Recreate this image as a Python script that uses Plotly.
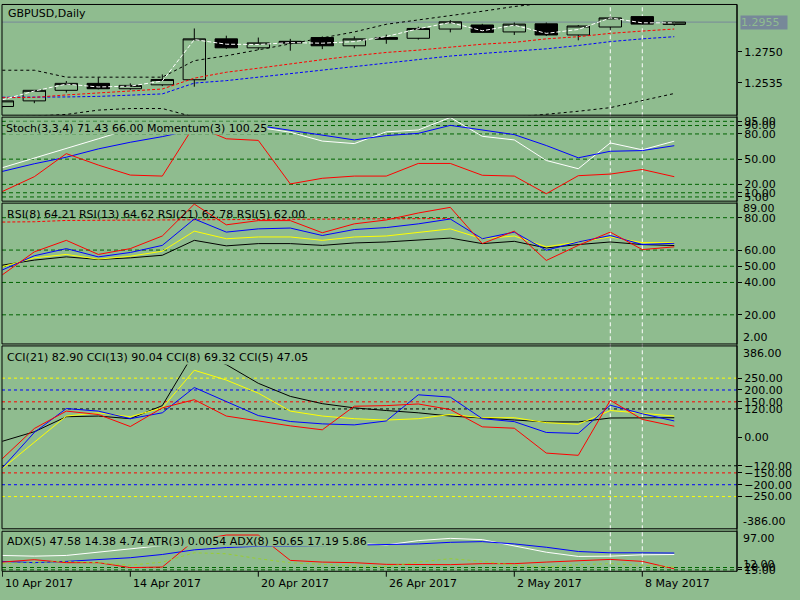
"""
GBPUSD daily chart with indicator sub windows, terminal style
"""

import plotly.graph_objects as go

BG = "#8fbc8f"
LEVEL = "#006400"
BID = "#778899"
FONT = "DejaVu Sans"

W, H = 800, 600

dates = [
    "2017-04-10", "2017-04-11", "2017-04-12", "2017-04-13", "2017-04-14",
    "2017-04-17", "2017-04-18", "2017-04-19", "2017-04-20", "2017-04-21",
    "2017-04-24", "2017-04-25", "2017-04-26", "2017-04-27", "2017-04-28",
    "2017-05-01", "2017-05-02", "2017-05-03", "2017-05-04", "2017-05-05",
    "2017-05-08", "2017-05-09",
]
tick_dates = ["2017-04-10", "2017-04-14", "2017-04-20",
              "2017-04-26", "2017-05-02", "2017-05-08"]
tick_text = ["10 Apr 2017", "14 Apr 2017", "20 Apr 2017",
             "26 Apr 2017", "2 May 2017", "8 May 2017"]
separator_dates = ["2017-05-05", "2017-05-08"]

# price candles
open_ = [1.2371, 1.2410, 1.2483, 1.2531, 1.2494, 1.2521, 1.2556, 1.2839,
         1.2777, 1.2822, 1.2848, 1.2791, 1.2848, 1.2843, 1.2907, 1.2935,
         1.2887, 1.2943, 1.2866, 1.2921, 1.2993, 1.2939]
high = [1.2414, 1.2485, 1.2547, 1.2572, 1.2531, 1.2593, 1.2911, 1.2861,
        1.2848, 1.2839, 1.2856, 1.2856, 1.2868, 1.2923, 1.2969, 1.2943,
        1.2952, 1.2952, 1.2935, 1.2993, 1.2996, 1.2957]
low = [1.2365, 1.2394, 1.2467, 1.2490, 1.2487, 1.2512, 1.2508, 1.2770,
       1.2763, 1.2757, 1.2768, 1.2774, 1.2805, 1.2834, 1.2884, 1.2882,
       1.2866, 1.2859, 1.2829, 1.2898, 1.2937, 1.2930]
close = [1.2410, 1.2483, 1.2531, 1.2494, 1.2517, 1.2558, 1.2839, 1.2777,
         1.2811, 1.2809, 1.2791, 1.2839, 1.2836, 1.2911, 1.2957, 1.2884,
         1.2941, 1.2866, 1.2928, 1.2984, 1.2941, 1.2955]

# overlays on the price window
ma_fast = [1.2417, 1.2478, 1.2526, 1.2506, 1.2512, 1.2547, 1.2834, 1.2802,
           1.2800, 1.2813, 1.2809, 1.2820, 1.2855, 1.2909, 1.2952, 1.2895,
           1.2934, 1.2877, 1.2904, 1.2984, 1.2950, 1.2950]
ma_red = [1.2432, 1.2434, 1.2451, 1.2465, 1.2478, 1.2492, 1.2567, 1.2608,
          1.2636, 1.2668, 1.2695, 1.2722, 1.2745, 1.2761, 1.2781, 1.2802,
          1.2815, 1.2839, 1.2854, 1.2877, 1.2893, 1.2907]
ma_blue = [1.2435, 1.2435, 1.2437, 1.2441, 1.2448, 1.2458, 1.2533, 1.2550,
           1.2574, 1.2598, 1.2625, 1.2646, 1.2673, 1.2699, 1.2720, 1.2738,
           1.2752, 1.2770, 1.2793, 1.2820, 1.2839, 1.2854]
band_upper = [1.2622, 1.2622, 1.2574, 1.2574, 1.2574, 1.2574, 1.2688, 1.2722,
              1.2763, 1.2805, 1.2846, 1.2887, 1.2940, 1.2969, 1.2999, 1.3030,
              1.3063, 1.3090, 1.3110, 1.3125, 1.3135, 1.3140]
band_lower = [1.2300, 1.2305, 1.2316, 1.2346, 1.2357, 1.2357, 1.2298, 1.2270,
              1.2250, 1.2235, 1.2225, 1.2220, 1.2225, 1.2235, 1.2255, 1.2275,
              1.2295, 1.2313, 1.2338, 1.2363, 1.2413, 1.2461]

# Stoch(3,3,4) and Momentum(3)
stoch_main = [39.8, 51.1, 62.6, 74.2, 86.0, 90.0, 92.0, 90.0, 88.0, 82.0, 71.5,
              68.5, 82.5, 84.7, 99.6, 77.2, 72.9, 48.4, 38.6, 69.3, 61.1, 71.4]
stoch_signal = [35.4, 44.5, 52.3, 62.2, 70.1, 76.8, 85.0, 89.0, 90.0, 84.0, 78.0,
                72.9, 78.0, 80.7, 90.2, 84.7, 79.2, 66.2, 51.6, 59.4, 60.2, 66.0]
momentum = [99.51, 100.25, 101.40, 100.83, 100.33, 100.28, 102.80, 102.14,
            102.06, 99.89, 100.17, 100.28, 100.28, 100.91, 100.91, 100.32,
            100.28, 99.40, 100.30, 100.38, 100.61, 100.25]
stoch_levels = [95, 90, 80, 50, 20, 10, 5]

# RSI window
rsi_8 = [47.7, 56.5, 60.9, 55.8, 58.5, 62.9, 79.2, 71.1, 73.1, 73.6, 69.0,
         72.7, 73.9, 76.2, 79.2, 67.0, 71.1, 59.9, 65.0, 69.0, 63.4, 64.2]
rsi_13 = [49.7, 55.2, 57.3, 54.4, 56.2, 59.3, 71.7, 67.0, 68.1, 68.1, 66.0,
          68.1, 68.7, 71.1, 73.1, 67.0, 68.7, 62.0, 65.0, 68.1, 64.6, 64.6]
rsi_21 = [50.7, 53.8, 55.8, 54.2, 55.2, 56.8, 66.0, 62.6, 64.0, 64.0, 62.9,
          64.4, 65.0, 66.4, 67.4, 64.0, 65.4, 61.3, 63.4, 65.0, 63.4, 62.8]
rsi_5 = [44.7, 58.9, 66.0, 57.3, 60.9, 68.7, 88.4, 75.6, 78.2, 78.2, 70.7,
         76.2, 78.6, 82.9, 86.4, 64.0, 71.7, 53.6, 62.9, 71.1, 60.3, 62.0]
rsi_dashed = [77.3, 77.5, 78.3, 78.3, 78.5, 78.6, 78.7, 78.8, 78.9, 79.0, 79.1,
              79.3, 79.5, 79.5, 79.5, None, None, None, None, None, None, None]
rsi_levels = [80, 60, 50, 40, 20]

# CCI window
cci_21 = [-16.6, 23.7, 87.1, 90.0, 78.8, 134.0, 359.0, 307.1, 228.2, 173.0,
          142.3, 124.5, 113.3, 103.7, 90.0, 83.0, 73.4, 65.1, 65.1, 81.7,
          81.7, 82.9]
cci_13 = [-131.5, -20.7, 90.0, 103.7, 87.1, 124.5, 283.4, 241.9, 186.7, 110.8,
          90.0, 78.8, 73.0, 78.8, 96.7, 83.0, 83.0, 62.2, 55.2, 113.3, 100.8,
          90.0]
cci_8 = [-128.6, 20.7, 121.6, 110.8, 78.8, 103.7, 210.4, 150.0, 92.0, 67.0,
         57.0, 52.7, 69.3, 179.7, 170.0, 78.8, 66.4, 20.7, 16.6, 135.7, 99.6,
         69.3]
cci_5 = [-90.0, 37.3, 110.8, 96.7, 45.6, 124.5, 159.0, 90.0, 69.3, 48.5, 31.9,
         131.5, 134.0, 141.0, 117.4, 44.4, 38.6, -66.4, -75.9, 156.4, 75.9,
         47.1]
cci_ticks = [250, 200, 150, 120, 0, -120, -150, -200, -250]
cci_levels = [250, 200, 150, 120, -120, -150, -200, -250]
cci_level_colors = ["#ffff00", "#0000ff", "#ff0000", "#000000",
                    "#000000", "#ff0000", "#0000ff", "#ffff00"]

# ADX / ATR window
adx_5 = [45.6, 44.1, 45.6, 52.5, 59.6, 66.6, 70.8, 75.0, 77.1, 77.1, 75.0,
         71.8, 68.0, 77.1, 81.9, 79.2, 65.1, 52.5, 43.5, 44.1, 47.0, 47.6]
adx_8 = [33.0, 30.3, 33.0, 36.6, 40.8, 47.7, 57.5, 62.4, 65.1, 65.1, 66.6,
         66.6, 68.7, 70.1, 73.5, 75.0, 70.1, 63.0, 54.0, 51.2, 51.2, 50.7]
plus_di_8 = [31.5, 36.6, 30.3, 30.3, 19.8, 21.0, 77.1, 89.0, 89.0, 35.1, 31.5,
             30.3, 26.7, 26.1, 26.1, 28.2, 28.2, 31.5, 35.1, 37.2, 33.0, 17.2]
atr_3 = [0.0081, 0.0089, 0.0100, 0.0089, 0.0068, 0.0094, 0.0170, 0.0162,
         0.0122, 0.0089, 0.0073, 0.0062, 0.0057, 0.0094, 0.0122, 0.0100,
         0.0068, 0.0054, 0.0073, 0.0081, 0.0068, 0.0054]
adx_levels = [20, 15]

price_ticks = [1.2750, 1.2535]

price_range = [1.2311, 1.3077]
mom_range = [99.03, 103.22]
rsi_range = [2, 89]
cci_range = [-386, 386]
adx_range = [12, 97]
atr_range = [0.0019, 0.0346]

# window positions in screen pixels (top, bottom)
PANES = {
    "main": (2.5, 114.5),
    "stoch": (116.5, 201.5),
    "rsi": (203.5, 346.0),
    "cci": (348.0, 533.0),
    "adx": (535.5, 576.0),
}
X_LEFT, X_RIGHT = 2, 737


def fx(px):
    return px / W


def fy(px):
    return 1 - px / H


def yaxis(pane, rng, ticks, fmt):
    top, bottom = PANES[pane]
    return dict(
        domain=[fy(bottom), fy(top)], range=rng, anchor="x", side="right",
        tickmode="array", tickvals=ticks, tickformat=fmt,
        ticks="outside", ticklen=4, tickcolor="black",
        tickfont=dict(size=11, color="black", family=FONT),
        showgrid=False, zeroline=False, showline=False, fixedrange=True,
    )


def line(y, color, axis, dash="solid"):
    return go.Scatter(
        x=dates, y=y, mode="lines", yaxis=axis, xaxis="x",
        line=dict(color=color, width=1, dash=dash),
        showlegend=False, hoverinfo="skip", connectgaps=False,
    )


fig = go.Figure()

fig.add_trace(go.Candlestick(
    x=dates, open=open_, high=high, low=low, close=close,
    xaxis="x", yaxis="y", whiskerwidth=0, showlegend=False,
    increasing=dict(line=dict(color="black", width=1), fillcolor=BG),
    decreasing=dict(line=dict(color="black", width=1), fillcolor="black"),
))
fig.add_trace(line(band_upper, "black", "y", "3px,3px"))
fig.add_trace(line(band_lower, "black", "y", "3px,3px"))
fig.add_trace(line(ma_blue, "#0000ff", "y", "3px,2px"))
fig.add_trace(line(ma_red, "#ff0000", "y", "3px,2px"))
fig.add_trace(line(ma_fast, "white", "y", "4px,2px"))

fig.add_trace(line(stoch_main, "white", "y2"))
fig.add_trace(line(stoch_signal, "#0000ff", "y2"))
fig.add_trace(line(momentum, "#ff0000", "y6"))

fig.add_trace(line(rsi_dashed, "#ff0000", "y3", "3px,2px"))
fig.add_trace(line(rsi_21, "black", "y3"))
fig.add_trace(line(rsi_13, "#ffff00", "y3"))
fig.add_trace(line(rsi_8, "#0000ff", "y3"))
fig.add_trace(line(rsi_5, "#ff0000", "y3"))

fig.add_trace(line(cci_21, "black", "y4"))
fig.add_trace(line(cci_13, "#ffff00", "y4"))
fig.add_trace(line(cci_8, "#0000ff", "y4"))
fig.add_trace(line(cci_5, "#ff0000", "y4"))

fig.add_trace(line(atr_3, "#9acd32", "y7", "3px,3px"))
fig.add_trace(line(adx_5, "white", "y5"))
fig.add_trace(line(adx_8, "#0000ff", "y5"))
fig.add_trace(line(plus_di_8, "#ff0000", "y5"))

shapes = []


def hline(axis, value, color, dash="4px,3px"):
    shapes.append(dict(
        type="line", xref="paper", yref=axis, layer="below",
        x0=fx(X_LEFT), x1=fx(X_RIGHT), y0=value, y1=value,
        line=dict(color=color, width=1, dash=dash),
    ))


for lv in stoch_levels:
    hline("y2", lv, LEVEL)
for lv in rsi_levels:
    hline("y3", lv, LEVEL)
for lv, col in zip(cci_levels, cci_level_colors):
    hline("y4", lv, col, "3px,3px")
for lv in adx_levels:
    hline("y5", lv, LEVEL)
hline("y", close[-1], BID, "solid")

for d in separator_dates:
    shapes.append(dict(
        type="line", xref="x", yref="paper", layer="below",
        x0=d, x1=d, y0=fy(PANES["adx"][1]), y1=fy(PANES["main"][0]),
        line=dict(color="white", width=1, dash="4px,3px"),
    ))

for top, bottom in PANES.values():
    shapes.append(dict(
        type="rect", xref="paper", yref="paper", layer="above",
        x0=fx(X_LEFT), x1=fx(X_RIGHT), y0=fy(bottom), y1=fy(top),
        line=dict(color="black", width=1), fillcolor="rgba(0,0,0,0)",
    ))
shapes.append(dict(
    type="line", xref="paper", yref="paper", layer="above",
    x0=fx(X_RIGHT), x1=fx(X_RIGHT),
    y0=fy(PANES["adx"][1]), y1=fy(PANES["main"][0]),
    line=dict(color="black", width=1),
))
for d in tick_dates:
    shapes.append(dict(
        type="line", xref="x", yref="paper", layer="above",
        x0=d, x1=d, y0=fy(576), y1=fy(581.5),
        line=dict(color="black", width=1),
    ))

annotations = []


def label(text, x, y, bg=None, **kw):
    annotations.append(dict(
        text=text, xref="paper", yref="paper", x=fx(x), y=fy(y),
        xanchor="left", yanchor="middle", showarrow=False,
        font=dict(size=11, color=kw.pop("color", "black"), family=FONT),
        bgcolor=bg, borderpad=0, **kw,
    ))


label("GBPUSD,Daily", 7, 11.7)
label("Stoch(3,3,4) %.2f %.2f Momentum(3) %.2f"
      % (71.43, 66.00, 100.25), 5, 127, bg=BG, height=12)
label("RSI(8) 64.21 RSI(13) 64.62 RSI(21) 62.78 RSI(5) 62.00", 6, 215.3)
label("CCI(21) 82.90 CCI(13) 90.04 CCI(8) 69.32 CCI(5) 47.05",
      6, 359.7, bg=BG, height=13)
label("ADX(5) 47.58 14.38 4.74 ATR(3) 0.0054 ADX(8) 50.65 17.19 5.86",
      6, 545.5, bg=BG, height=9)

# scale extremes drawn inside the window, as the terminal does
label("%.2f" % rsi_range[1], 742, 209.3)
label("%.2f" % rsi_range[0], 742, 339.3)
label("%.2f" % cci_range[1], 742, 355.3)
label("%.2f" % cci_range[0], 742, 526.0)
label("%.2f" % adx_range[1], 742, 542.7)
label("%.2f" % adx_range[0], 742, 569.5)

# bid price tag
label("%.4f" % close[-1], 740, 20.3, bg=BID, color=BG,
      width=46, height=13, align="left")

for d, t in zip(tick_dates, tick_text):
    annotations.append(dict(
        text=t, xref="x", yref="paper", x=d, y=fy(588.5),
        xanchor="left", yanchor="middle", xshift=1, showarrow=False,
        font=dict(size=11, color="black", family=FONT),
    ))

fig.update_layout(
    width=W, height=H, margin=dict(l=0, r=0, t=0, b=0),
    paper_bgcolor=BG, plot_bgcolor=BG,
    font=dict(family=FONT, size=11, color="black"),
    showlegend=False, hovermode=False, dragmode=False,
    boxgap=0.3, boxgroupgap=0,
    xaxis=dict(
        type="category", domain=[fx(X_LEFT), fx(X_RIGHT)],
        range=[-0.01, 22.96], visible=False, fixedrange=True,
        rangeslider=dict(visible=False),
    ),
    yaxis=yaxis("main", price_range, price_ticks, ".4f"),
    yaxis2=yaxis("stoch", [0, 100], stoch_levels, ".2f"),
    yaxis3=yaxis("rsi", rsi_range, rsi_levels, ".2f"),
    yaxis4=yaxis("cci", cci_range, cci_ticks, ".2f"),
    yaxis5=yaxis("adx", adx_range, adx_levels, ".2f"),
    yaxis6=dict(overlaying="y2", anchor="x", range=mom_range,
                visible=False, fixedrange=True),
    yaxis7=dict(overlaying="y5", anchor="x", range=atr_range,
                visible=False, fixedrange=True),
    shapes=shapes,
    annotations=annotations,
)

# the page body has a default 8px margin; drop it so the chart sits at 0,0
fig.write_html(
    "out.html",
    config={"displayModeBar": False, "staticPlot": True},
    post_script="document.body.style.margin='0';"
                "document.body.style.overflow='hidden';",
)
